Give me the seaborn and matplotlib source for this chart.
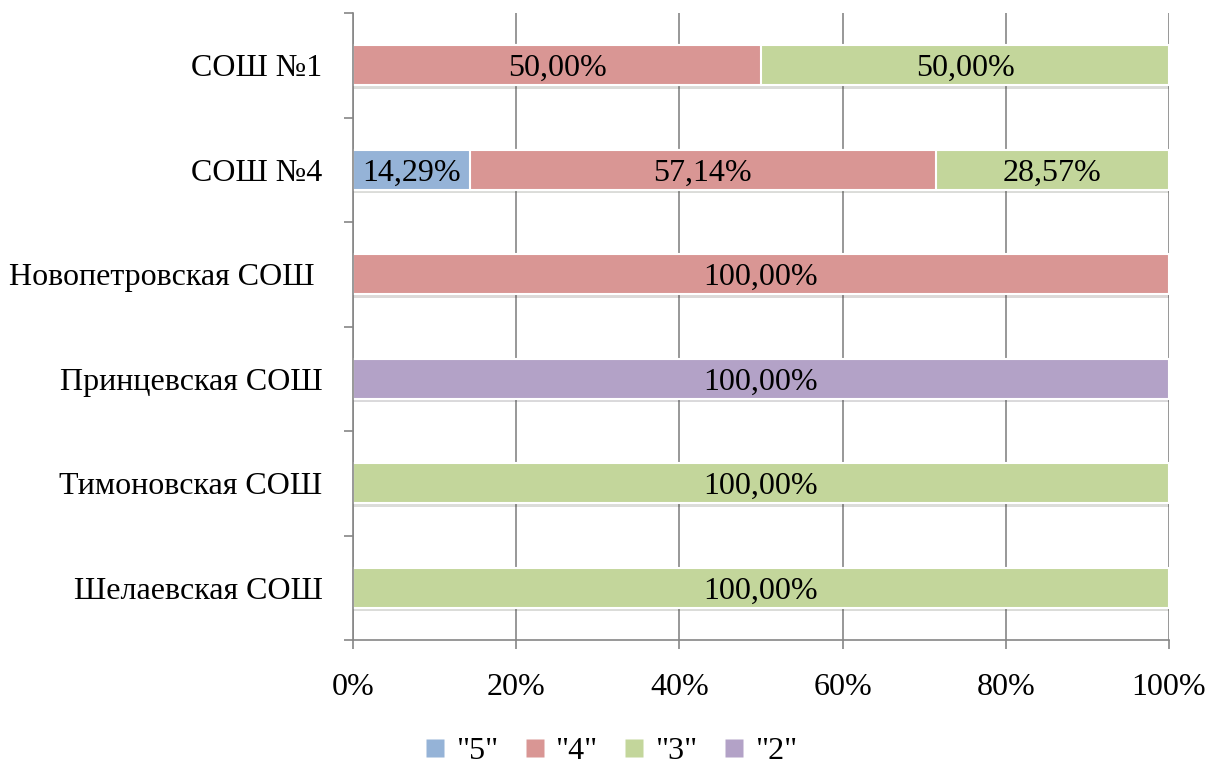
import numpy as np
import pandas as pd
import matplotlib
matplotlib.use("Agg")
import matplotlib.pyplot as plt
import matplotlib.patheffects as pe
from matplotlib.lines import Line2D
import seaborn as sns

# data (percent shares per school)
schools = ["СОШ №1", "СОШ №4", "Новопетровская СОШ ", "Принцевская СОШ",
           "Тимоновская СОШ", "Шелаевская СОШ"]
grade_5 = [0, 14.29, 0, 0, 0, 0]
grade_4 = [50.00, 57.14, 100.00, 0, 0, 0]
grade_3 = [50.00, 28.57, 0, 0, 100.00, 100.00]
grade_2 = [0, 0, 0, 100.00, 0, 0]

series_names = ['"5"', '"4"', '"3"', '"2"']
colors = ["#95B3D7", "#D99694", "#C3D69B", "#B3A2C7"]

sns.set_style("white")
plt.rcParams["font.family"] = ["Liberation Serif", "DejaVu Serif"]
plt.rcParams["text.color"] = "black"
plt.rcParams["xtick.labelcolor"] = "black"
plt.rcParams["ytick.labelcolor"] = "black"

df = pd.DataFrame({"school": schools, "5": grade_5, "4": grade_4,
                   "3": grade_3, "2": grade_2})
keys = ["5", "4", "3", "2"]
cum = df[keys].cumsum(axis=1)
totals = df[keys].sum(axis=1)

fig = plt.figure(figsize=(12.19, 7.71), dpi=100)
ax = fig.add_axes([0.2896, 0.1699, 0.6694, 0.8132])

# draw from the rightmost segment back so earlier ones sit on top
for key, col in reversed(list(zip(keys, colors))):
    vals = cum[key].where(df[key] > 0)
    sns.barplot(x=vals, y=df["school"], color=col, orient="h", width=0.38,
                saturation=1, edgecolor="white", linewidth=1.5, ax=ax,
                zorder=3)

# soft shadow only under the full-length bar of each row
shadow = [pe.SimplePatchShadow(offset=(1, -2.5), alpha=0.18), pe.Normal()]
for p in ax.patches:
    if p.get_width() >= totals.max() - 0.01:
        p.set_path_effects(shadow)

# segment labels
for i in range(len(df)):
    left = 0
    for key in keys:
        v = df.loc[i, key]
        if v > 0:
            ax.text(left + v / 2, i, f"{v:.2f}%".replace(".", ","),
                    ha="center", va="center_baseline", fontsize=23, zorder=5)
        left += v

ax.set_xlim(0, 100)
ax.set_ylim(len(df) - 0.5, -0.5)
ax.set_xticks(np.arange(0, 101, 20))
ax.set_xticklabels([f"{t}%" for t in range(0, 101, 20)], fontsize=23)
ax.set_yticks(np.arange(len(df)))
ax.set_yticklabels(schools, fontsize=23)
ax.set_xlabel("")
ax.set_ylabel("")

ax.grid(axis="x", color="#868686", linewidth=1.2, zorder=0)
ax.set_axisbelow(True)
for s in ["top", "right"]:
    ax.spines[s].set_visible(False)
for s in ["left", "bottom"]:
    ax.spines[s].set_color("#868686")
    ax.spines[s].set_linewidth(1.2)
    ax.spines[s].set_zorder(4)

# ticks on category boundaries for y, outward ticks for x
ax.set_yticks(np.arange(-0.5, len(df), 1), minor=True)
ax.tick_params(axis="y", which="major", length=0, pad=22)
ax.tick_params(axis="y", which="minor", length=6.5, width=1.2, color="#868686",
               direction="out", left=True)
ax.tick_params(axis="x", length=6.5, width=1.2, color="#868686",
               direction="out", bottom=True, pad=17)

handles = [Line2D([], [], marker="s", linestyle="", markersize=13,
                  markerfacecolor=c, markeredgecolor="none") for c in colors]
fig.legend(handles, series_names, loc="center", bbox_to_anchor=(0.5, 0.025),
           ncol=4, frameon=False, fontsize=23, handletextpad=0.25,
           handlelength=0.8, columnspacing=0.75)

fig.savefig("out.png", dpi=100)
